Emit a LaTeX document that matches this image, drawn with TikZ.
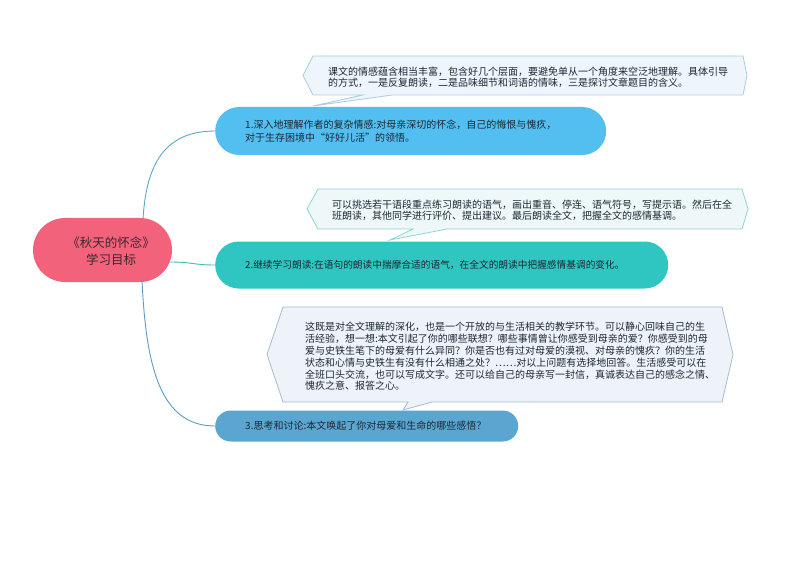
\documentclass[tikz,border=0pt]{standalone}
\usepackage{fontspec}
\setmainfont{Noto Sans CJK SC}
\usetikzlibrary{backgrounds}
\definecolor{rootcol}{HTML}{F2627B}
\definecolor{roottxt}{HTML}{3E2630}
\definecolor{nonecol}{HTML}{53BEF0}
\definecolor{ntwocol}{HTML}{2FC5C0}
\definecolor{nthreecol}{HTML}{5AA6D0}
\definecolor{txt}{HTML}{1C2733}
\definecolor{coonefill}{HTML}{EEF6FC}
\definecolor{cooneline}{HTML}{A9CCE3}
\definecolor{cotwofill}{HTML}{EEF8F8}
\definecolor{cotwoline}{HTML}{8FD5D2}
\definecolor{cothreefill}{HTML}{EEF3F9}
\definecolor{cothreeline}{HTML}{A7BCD0}
\definecolor{connone}{HTML}{5DA7C7}
\definecolor{conntwo}{HTML}{3DBDB8}
\definecolor{connthree}{HTML}{5B9DC2}
\begin{document}
\begin{tikzpicture}[x=1pt,y=-1pt,
  branch/.style={rectangle, rounded corners=#1, inner xsep=30pt, inner ysep=0pt,
    align=left, text=txt, anchor=west},
  cotext/.style={inner sep=0pt, align=left, text=txt, anchor=west},
  conn/.style={line width=0.9pt},
  cobox/.style={line width=0.8pt, line join=miter}]
\useasboundingbox (0,0) rectangle (794,561);

% root
\node[rectangle, rounded corners=32pt, fill=rootcol, minimum width=139pt,
  minimum height=64pt, inner sep=0pt] (root) at (102.5,250) {};
\node[font=\fontsize{12.5}{17}\selectfont, text=roottxt, align=center, inner sep=0pt]
  (roottext) at (111,251) {《秋天的怀念》\\学习目标};

% branches
\node[branch=24pt, fill=nonecol, minimum height=48pt, text width=331pt,
  font=\fontsize{10}{13}\selectfont] (n1) at (215,131)
  {1.深入地理解作者的复杂情感:对母亲深切的怀念，自己的悔恨与愧疚，\\对于生存困境中“好好儿活”的领悟。};
\node[branch=23.5pt, fill=ntwocol, minimum height=47pt, text width=393pt,
  font=\fontsize{9.7}{12}\selectfont] (n2) at (215,265)
  {2.继续学习朗读:在语句的朗读中揣摩合适的语气，在全文的朗读中把握感情基调的变化。};
\node[branch=15.5pt, fill=nthreecol, minimum height=31pt, text width=243pt,
  font=\fontsize{10}{12}\selectfont] (n3) at (215,426)
  {3.思考和讨论:本文唤起了你对母爱和生命的哪些感悟？};

% callout shapes
\path[cobox, fill=coonefill, draw=cooneline]
  (303,75.5) -- (313,56) -- (743,56) -- (747,75.5) -- (743,95) -- (392,95)
  -- (313,106) -- (363,95) -- (313,95) -- cycle;
\path[cobox, fill=cotwofill, draw=cotwoline]
  (307,209) -- (318,189) -- (742,189) -- (748,209) -- (742,229) -- (447,229)
  -- (390,240) -- (413,229) -- (318,229) -- cycle;
\path[cobox, fill=cothreefill, draw=cothreeline]
  (267,354.5) -- (283,307) -- (722,307) -- (733,354.5) -- (722,402) -- (432,402)
  -- (403,410) -- (408,402) -- (283,402) -- cycle;

% callout texts
\node[cotext, font=\fontsize{10}{11.5}\selectfont] (c1) at (328,77.5)
  {课文的情感蕴含相当丰富，包含好几个层面，要避免单从一个角度来空泛地理解。具体引导\\的方式，一是反复朗读，二是品味细节和词语的情味，三是探讨文章题目的含义。};
\node[cotext, font=\fontsize{10}{11.5}\selectfont] (c2) at (332,210.5)
  {可以挑选若干语段重点练习朗读的语气，画出重音、停连、语气符号，写提示语。然后在全\\班朗读，其他同学进行评价、提出建议。最后朗读全文，把握全文的感情基调。};
\node[cotext, font=\fontsize{10}{11.8}\selectfont] (c3) at (305,356.5)
  {这既是对全文理解的深化，也是一个开放的与生活相关的教学环节。可以静心回味自己的生\\
   活经验，想一想:本文引起了你的哪些联想？哪些事情曾让你感受到母亲的爱？你感受到的母\\
   爱与史铁生笔下的母爱有什么异同？你是否也有过对母爱的漠视、对母亲的愧疚？你的生活\\
   状态和心情与史铁生有没有什么相通之处？……对以上问题有选择地回答。生活感受可以在\\
   全班口头交流，也可以写成文字。还可以给自己的母亲写一封信，真诚表达自己的感念之情、\\
   愧疚之意、报答之心。};

% connectors
\begin{scope}[on background layer]
\fill[white] (0,0) rectangle (794,561);
\draw[conn, draw=connone] ([xshift=40.5pt,yshift=-2pt]root.north)
  .. controls +(3,-56) and +(-50,0) .. (n1.west);
\draw[conn, draw=conntwo] ([xshift=-3pt,yshift=-12pt]root.east)
  .. controls +(24,0) and +(-22,0) .. (n2.west);
\draw[conn, draw=connthree] ([xshift=39.5pt,yshift=2pt]root.south)
  .. controls +(4,86) and +(-55,0) .. (n3.west);
\end{scope}
\end{tikzpicture}
\end{document}
